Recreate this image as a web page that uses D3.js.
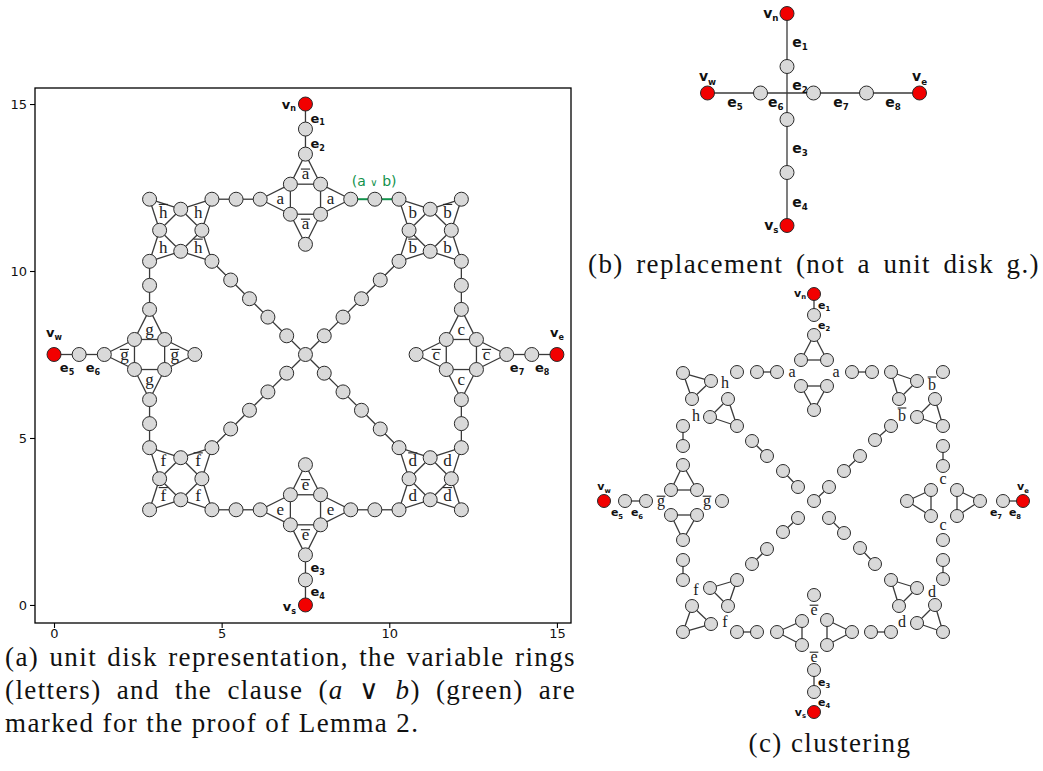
<!DOCTYPE html>
<html>
<head>
<meta charset="utf-8">
<script src="https://cdn.jsdelivr.net/npm/d3@7"></script>
<style>
  body { margin: 0; background: #fff; }
</style>
</head>
<body>
<script>
var SERIF = "'Liberation Serif', 'Times New Roman', serif"
var SANS = "'DejaVu Sans', sans-serif"
var NODE_FILL = '#d9d9d9', NODE_STROKE = '#2a2a2a', EDGE = '#3a3a3a', RED = '#f20000', GREEN = '#12924c'

// ---------- panel (a): unit disk representation ----------
var ticksA = [0, 5, 10, 15]

var nodesA = [
  // terminals and their chains
  ['vn', 7.5, 15], ['n1', 7.5, 14.25], ['vs', 7.5, 0], ['n4', 7.5, 0.75],
  ['vw', 0, 7.5], ['n5', 0.75, 7.5], ['ve', 15, 7.5], ['n8', 14.25, 7.5],
  // side gadgets a, c, e, g
  ['aT', 7.5, 13.5], ['aB', 7.5, 10.8], ['aL', 6.15, 12.15], ['aR', 8.85, 12.15],
  ['a1', 7.05, 12.6], ['a2', 7.95, 12.6], ['a3', 7.05, 11.7], ['a4', 7.95, 11.7],
  ['cT', 12.15, 8.85], ['cB', 12.15, 6.15], ['cL', 10.8, 7.5], ['cR', 13.5, 7.5],
  ['c1', 11.7, 7.95], ['c2', 12.6, 7.95], ['c3', 11.7, 7.05], ['c4', 12.6, 7.05],
  ['eT', 7.5, 4.2], ['eB', 7.5, 1.5], ['eL', 6.15, 2.85], ['eR', 8.85, 2.85],
  ['e1', 7.05, 3.3], ['e2', 7.95, 3.3], ['e3', 7.05, 2.4], ['e4', 7.95, 2.4],
  ['gT', 2.85, 8.85], ['gB', 2.85, 6.15], ['gL', 1.5, 7.5], ['gR', 4.2, 7.5],
  ['g1', 2.4, 7.95], ['g2', 3.3, 7.95], ['g3', 2.4, 7.05], ['g4', 3.3, 7.05],
  // corner gadgets h, b, d, f
  ['hTL', 2.85, 12.15], ['hTR', 4.71, 12.15], ['hBL', 2.85, 10.29], ['hBR', 4.71, 10.29],
  ['hiT', 3.78, 11.85], ['hiL', 3.15, 11.22], ['hiR', 4.41, 11.22], ['hiB', 3.78, 10.59],
  ['bTL', 10.29, 12.15], ['bTR', 12.15, 12.15], ['bBL', 10.29, 10.29], ['bBR', 12.15, 10.29],
  ['biT', 11.22, 11.85], ['biL', 10.59, 11.22], ['biR', 11.85, 11.22], ['biB', 11.22, 10.59],
  ['dTL', 10.29, 4.71], ['dTR', 12.15, 4.71], ['dBL', 10.29, 2.85], ['dBR', 12.15, 2.85],
  ['diT', 11.22, 4.41], ['diL', 10.59, 3.78], ['diR', 11.85, 3.78], ['diB', 11.22, 3.15],
  ['fTL', 2.85, 4.71], ['fTR', 4.71, 4.71], ['fBL', 2.85, 2.85], ['fBR', 4.71, 2.85],
  ['fiT', 3.78, 4.41], ['fiL', 3.15, 3.78], ['fiR', 4.41, 3.78], ['fiB', 3.78, 3.15],
  // ring chain nodes
  ['r1', 5.43, 12.15], ['r2', 9.57, 12.15], ['r3', 12.15, 9.57], ['r4', 12.15, 5.43],
  ['r5', 9.57, 2.85], ['r6', 5.43, 2.85], ['r7', 2.85, 5.43], ['r8', 2.85, 9.57],
  // diagonals and centre
  ['x0', 7.5, 7.5],
  ['ul1', 5.27, 9.73], ['ul2', 5.83, 9.17], ['ul3', 6.38, 8.62], ['ul4', 6.94, 8.06],
  ['ur1', 9.73, 9.73], ['ur2', 9.17, 9.17], ['ur3', 8.62, 8.62], ['ur4', 8.06, 8.06],
  ['dl1', 5.27, 5.27], ['dl2', 5.83, 5.83], ['dl3', 6.38, 6.38], ['dl4', 6.94, 6.94],
  ['dr1', 9.73, 5.27], ['dr2', 9.17, 5.83], ['dr3', 8.62, 6.38], ['dr4', 8.06, 6.94]
]

var sideBars = {a: [1, 1, 0, 0], c: [0, 0, 1, 1], e: [1, 1, 0, 0], g: [0, 0, 1, 1]}   // top, bottom, left, right
var cornerBars = {h: [1, 0, 0, 1], b: [0, 1, 1, 0], d: [1, 0, 0, 1], f: [0, 1, 1, 0]} // tl, tr, bl, br

var chainEdgesA = [
  ['vn', 'n1'], ['n1', 'aT'], ['vs', 'n4'], ['n4', 'eB'], ['vw', 'n5'], ['n5', 'gL'], ['ve', 'n8'], ['n8', 'cR'],
  ['hTR', 'r1'], ['r1', 'aL'], ['bBR', 'r3'], ['r3', 'cT'], ['cB', 'r4'], ['r4', 'dTR'],
  ['dBL', 'r5'], ['r5', 'eR'], ['eL', 'r6'], ['r6', 'fBR'], ['fTL', 'r7'], ['r7', 'gB'], ['gT', 'r8'], ['r8', 'hBL'],
  ['hBR', 'ul1'], ['ul1', 'ul2'], ['ul2', 'ul3'], ['ul3', 'ul4'], ['ul4', 'x0'],
  ['bBL', 'ur1'], ['ur1', 'ur2'], ['ur2', 'ur3'], ['ur3', 'ur4'], ['ur4', 'x0'],
  ['fTR', 'dl1'], ['dl1', 'dl2'], ['dl2', 'dl3'], ['dl3', 'dl4'], ['dl4', 'x0'],
  ['dTL', 'dr1'], ['dr1', 'dr2'], ['dr2', 'dr3'], ['dr3', 'dr4'], ['dr4', 'x0']
]
var clauseEdgesA = [['aR', 'r2'], ['r2', 'bTL']]
var terminalsA = ['vn', 'vs', 'vw', 've']

var edgeLabelsA = [
  ['e', '1', 7.65, 14.58, 'start'], ['e', '2', 7.65, 13.83, 'start'],
  ['e', '3', 7.65, 1.11, 'start'], ['e', '4', 7.65, 0.39, 'start'],
  ['e', '5', 0.39, 7.11, 'middle'], ['e', '6', 1.16, 7.11, 'middle'],
  ['e', '7', 13.81, 7.11, 'middle'], ['e', '8', 14.56, 7.11, 'middle'],
  ['v', 'n', 7.22, 15, 'end'], ['v', 's', 7.22, -0.05, 'end'],
  ['v', 'w', 0, 8.15, 'middle'], ['v', 'e', 15, 8.15, 'middle']
]
var clauseLabelA = [9.55, 12.7]

// ---------- panel (b): replacement ----------
var nodesB = [
  ['vn', 0, 3], ['n1', 0, 1], ['n3', 0, -1], ['n4', 0, -3], ['vs', 0, -5],
  ['vw', -3, 0], ['n5', -1, 0], ['n7', 1, 0], ['n8', 3, 0], ['ve', 5, 0]
]
var edgesB = [['vn', 'n1'], ['n1', 'n3'], ['n3', 'n4'], ['n4', 'vs'], ['vw', 'n5'], ['n5', 'n7'], ['n7', 'n8'], ['n8', 've']]
var edgeLabelsB = [
  ['e', '1', 0.2, 1.92, 'start'], ['e', '2', 0.2, 0.3, 'start'], ['e', '3', 0.2, -2.08, 'start'], ['e', '4', 0.2, -4.11, 'start'],
  ['e', '5', -1.96, -0.34, 'middle'], ['e', '6', -0.42, -0.34, 'middle'], ['e', '7', 2.04, -0.34, 'middle'], ['e', '8', 4.0, -0.34, 'middle'],
  ['v', 'n', -0.32, 3.02, 'end'], ['v', 's', -0.32, -5, 'end'], ['v', 'w', -3, 0.62, 'middle'], ['v', 'e', 5, 0.62, 'middle']
]

// ---------- panel (c): clustering ----------
var clustersC = [
  [[0, 10.35], [0, 9.3]],
  [[0, 8.3], [-0.65, 7.05], [0.65, 7.05]],
  [[-0.65, 5.75], [0.65, 5.75], [0, 4.55]],
  [[-3.85, 6.45]],
  [[-2.85, 6.45], [-1.85, 6.45]],
  [[1.9, 6.45], [2.9, 6.45]],
  [[-6.55, 6.4], [-5.15, 6.0], [-6.1, 5.1]],
  [[-4.3, 5.1], [-5.2, 4.2], [-3.85, 3.75]],
  [[-6.55, 3.75], [-6.55, 2.75]],
  [[-6.55, 1.8], [-7.15, 0.55], [-5.85, 0.55]],
  [[-10.5, 0]],
  [[-9.45, 0], [-8.4, 0]],
  [[-4.6, 0]],
  [[-7.15, -0.7], [-5.85, -0.7], [-6.55, -1.95]],
  [[-6.55, -2.95], [-6.55, -3.95]],
  [[-5.2, -4.35], [-3.85, -3.95], [-4.3, -5.25]],
  [[-6.1, -5.25], [-5.15, -6.15], [-6.55, -6.55]],
  [[-3.85, -6.55], [-2.85, -6.55]],
  [[-1.85, -6.55], [-0.6, -6.0], [-0.6, -7.2]],
  [[0.65, -5.95], [0.65, -7.2], [1.9, -6.55]],
  [[0, -4.7]],
  [[0, -8.45], [0, -9.55]],
  [[0, -10.55]],
  [[2.85, -6.55], [3.85, -6.55]],
  [[5.15, -6.1], [6.05, -5.2], [6.45, -6.55]],
  [[3.85, -3.95], [5.15, -4.35], [4.25, -5.25]],
  [[6.45, -2.95], [6.45, -3.9]],
  [[6.45, -1.95]],
  [[4.65, 0], [5.85, 0.55], [5.85, -0.75]],
  [[7.15, 0.55], [7.15, -0.75], [8.3, 0]],
  [[9.45, 0], [10.45, 0]],
  [[6.45, 2.75], [6.45, 1.75]],
  [[6.05, 5.1], [5.15, 4.2], [6.45, 3.75]],
  [[3.85, 6.45], [5.15, 6.0], [4.25, 5.1]],
  [[6.45, 6.45]],
  [[-3.1, 3.0], [-2.35, 2.25]], [[-1.55, 1.5], [-0.8, 0.7]],
  [[0, 0], [0.75, 0.7]], [[1.5, 1.5], [2.3, 2.25]], [[3.05, 3.05], [3.85, 3.75]],
  [[-0.8, -0.85], [-1.55, -1.55]], [[-2.35, -2.4], [-3.1, -3.15]],
  [[0.75, -0.85], [1.5, -1.6]], [[2.3, -2.35], [3.05, -3.15]]
]
var terminalsC = [[0, 10.35], [-10.5, 0], [0, -10.55], [10.45, 0]]
var letterLabelsC = [
  ['a', 0, -1.1, 6.45], ['a', 0, 1.1, 6.45], ['h', 0, -4.45, 5.9], ['h', 0, -5.9, 4.25],
  ['g', 1, -7.65, 0], ['g', 1, -5.35, 0], ['f', 0, -5.9, -4.45], ['f', 0, -4.45, -6.05],
  ['e', 1, 0, -5.45], ['e', 1, 0, -7.8], ['d', 0, 4.4, -6.05], ['d', 0, 5.9, -4.55],
  ['c', 0, 6.45, -1.2], ['c', 0, 6.45, 1.1], ['b', 1, 4.4, 4.25], ['b', 1, 5.9, 5.8]
]
var edgeLabelsC = [
  ['e', '1', 0.2, 9.8, 'start'], ['e', '2', 0.2, 8.8, 'start'], ['e', '3', 0.2, -9.05, 'start'], ['e', '4', 0.2, -10.05, 'start'],
  ['e', '5', -9.85, -0.58, 'middle'], ['e', '6', -8.85, -0.58, 'middle'], ['e', '7', 9.1, -0.58, 'middle'], ['e', '8', 10.05, -0.58, 'middle'],
  ['v', 'n', -0.4, 10.4, 'end'], ['v', 's', -0.4, -10.55, 'end'], ['v', 'w', -10.5, 0.72, 'middle'], ['v', 'e', 10.45, 0.72, 'middle']
]

// ---------- captions ----------
var captionA = [
  [['(a) unit disk representation, the variable rings', 0]],
  [['(letters) and the clause (', 0], ['a', 1], [' \u2228 ', 0], ['b', 1], [') (green) are', 0]],
  [['marked for the proof of Lemma 2.', 0]]
]
var captionB = '(b) replacement (not a unit disk g.)'
var captionC = '(c) clustering'

// ====================================================================
var svg = d3.select('body').append('svg').attr('width', 1043).attr('height', 771)
  .style('display', 'block')

function subLabel(g, x, y, base, sub, anchor, size){
  var t = g.append('text').attr('x', x).attr('y', y).attr('dy', '0.35em')
    .attr('text-anchor', anchor)
    .style('font-family', SANS).style('font-weight', 'bold').style('font-size', size + 'px')
    .style('fill', '#111')
  t.append('tspan').text(base)
  t.append('tspan').text(sub).style('font-size', (size * 0.62) + 'px').attr('dy', size * 0.22)
}

function barLetter(g, x, y, ch, bar, size){
  var base = y + size * 0.3
  g.append('text').attr('x', x).attr('y', base).attr('text-anchor', 'middle')
    .style('font-family', SERIF).style('font-size', size + 'px').style('fill', '#222')
    .text(ch)
  if (bar) {
    var asc = 'bdfh'.indexOf(ch) >= 0
    var by = base - (asc ? size * 0.8 : size * 0.6)
    g.append('line').attr('x1', x - size * 0.27).attr('x2', x + size * 0.27)
      .attr('y1', by).attr('y2', by).style('stroke', '#222').style('stroke-width', 1.1)
  }
}

function drawNodes(g, pts, x, y, r, isRed){
  g.append('g').selectAll('circle').data(pts).join('circle')
    .attr('cx', function(d){ return x(d[0]) })
    .attr('cy', function(d){ return y(d[1]) })
    .attr('r', r)
    .style('fill', function(d){ return isRed(d) ? RED : NODE_FILL })
    .style('stroke', NODE_STROKE).style('stroke-width', 1)
}

// justify a text line to a width by widening its word gaps
function justify(t, width){
  var node = t.node()
  var spaces = (node.textContent.match(/ /g) || []).length
  var extra = width - node.getComputedTextLength()
  if (spaces) t.style('word-spacing', (extra / spaces) + 'px')
}

// ---------- panel (a) ----------
!(function(){
  var x = d3.scaleLinear().domain([-0.567, 15.42]).range([35, 571])
  var y = d3.scaleLinear().domain([-0.54, 15.48]).range([623, 88])
  var g = svg.append('g')

  var pos = {}
  nodesA.forEach(function(d){ pos[d[0]] = [d[1], d[2]] })

  var edges = chainEdgesA.slice()
  Object.keys(sideBars).forEach(function(k){
    edges.push([k+'1', k+'2'], [k+'2', k+'4'], [k+'4', k+'3'], [k+'3', k+'1'],
      [k+'T', k+'1'], [k+'T', k+'2'], [k+'B', k+'3'], [k+'B', k+'4'],
      [k+'L', k+'1'], [k+'L', k+'3'], [k+'R', k+'2'], [k+'R', k+'4'])
  })
  Object.keys(cornerBars).forEach(function(k){
    edges.push([k+'iT', k+'iL'], [k+'iT', k+'iR'], [k+'iB', k+'iL'], [k+'iB', k+'iR'],
      [k+'TL', k+'iT'], [k+'TL', k+'iL'], [k+'TR', k+'iT'], [k+'TR', k+'iR'],
      [k+'BL', k+'iL'], [k+'BL', k+'iB'], [k+'BR', k+'iR'], [k+'BR', k+'iB'])
  })

  // axes
  var xAxis = d3.axisBottom(x).tickValues(ticksA).tickSize(5).tickPadding(1)
  var yAxis = d3.axisLeft(y).tickValues(ticksA).tickSize(5).tickPadding(3)
  g.append('g').attr('transform', 'translate(0,623)').call(xAxis)
  g.append('g').attr('transform', 'translate(35,0)').call(yAxis)
  g.selectAll('.domain').remove()
  g.selectAll('.tick line').style('stroke', '#000').style('stroke-width', 1.1)
  g.selectAll('.tick text').style('font-family', SANS).style('font-size', '13px').style('fill', '#111')
  g.append('rect').attr('x', 35).attr('y', 88).attr('width', 536).attr('height', 535)
    .style('fill', 'none').style('stroke', '#000').style('stroke-width', 1.3)

  g.append('g').selectAll('line').data(edges).join('line')
    .attr('x1', function(d){ return x(pos[d[0]][0]) }).attr('y1', function(d){ return y(pos[d[0]][1]) })
    .attr('x2', function(d){ return x(pos[d[1]][0]) }).attr('y2', function(d){ return y(pos[d[1]][1]) })
    .style('stroke', EDGE).style('stroke-width', 1.3)

  g.append('g').selectAll('line').data(clauseEdgesA).join('line')
    .attr('x1', function(d){ return x(pos[d[0]][0]) }).attr('y1', function(d){ return y(pos[d[0]][1]) })
    .attr('x2', function(d){ return x(pos[d[1]][0]) }).attr('y2', function(d){ return y(pos[d[1]][1]) })
    .style('stroke', GREEN).style('stroke-width', 2)

  // triangle letters
  var lab = g.append('g')
  function tri(a, b, c, ch, bar){
    var cx = (pos[a][0] + pos[b][0] + pos[c][0]) / 3
    var cy = (pos[a][1] + pos[b][1] + pos[c][1]) / 3
    barLetter(lab, x(cx), y(cy), ch, bar, 17)
  }
  Object.keys(sideBars).forEach(function(k){
    var b = sideBars[k]
    tri(k+'T', k+'1', k+'2', k, b[0]); tri(k+'B', k+'3', k+'4', k, b[1])
    tri(k+'L', k+'1', k+'3', k, b[2]); tri(k+'R', k+'2', k+'4', k, b[3])
  })
  Object.keys(cornerBars).forEach(function(k){
    var b = cornerBars[k]
    tri(k+'TL', k+'iT', k+'iL', k, b[0]); tri(k+'TR', k+'iT', k+'iR', k, b[1])
    tri(k+'BL', k+'iL', k+'iB', k, b[2]); tri(k+'BR', k+'iR', k+'iB', k, b[3])
  })

  drawNodes(g, nodesA.map(function(d){ return [d[1], d[2], d[0]] }), x, y, 7,
    function(d){ return terminalsA.indexOf(d[2]) >= 0 })

  edgeLabelsA.forEach(function(d){ subLabel(g, x(d[2]), y(d[3]), d[0], d[1], d[4], 13) })

  var cl = g.append('text').attr('x', x(clauseLabelA[0])).attr('y', y(clauseLabelA[1])).attr('dy', '0.35em')
    .attr('text-anchor', 'middle').style('font-family', SANS).style('font-size', '14px').style('fill', GREEN)
  cl.append('tspan').text('(a ')
  cl.append('tspan').text('\u2228').style('font-size', '10px')
  cl.append('tspan').text(' b)')
})()

// ---------- panel (b) ----------
!(function(){
  var x = d3.scaleLinear().domain([-3, 5]).range([707.5, 919.5])
  var y = d3.scaleLinear().domain([-5, 3]).range([225.5, 13.5])
  var g = svg.append('g')
  var pos = {}
  nodesB.forEach(function(d){ pos[d[0]] = [d[1], d[2]] })

  g.append('g').selectAll('line').data(edgesB).join('line')
    .attr('x1', function(d){ return x(pos[d[0]][0]) }).attr('y1', function(d){ return y(pos[d[0]][1]) })
    .attr('x2', function(d){ return x(pos[d[1]][0]) }).attr('y2', function(d){ return y(pos[d[1]][1]) })
    .style('stroke', EDGE).style('stroke-width', 1.3)

  drawNodes(g, nodesB.map(function(d){ return [d[1], d[2], d[0]] }), x, y, 7,
    function(d){ return d[2].charAt(0) == 'v' })

  edgeLabelsB.forEach(function(d){ subLabel(g, x(d[2]), y(d[3]), d[0], d[1], d[4], 14) })
})()

// ---------- panel (c) ----------
!(function(){
  var x = d3.scaleLinear().domain([-10.5, 10.45]).range([604, 1023])
  var y = d3.scaleLinear().domain([-10.55, 10.35]).range([712, 294])
  var g = svg.append('g')

  var links = []
  clustersC.forEach(function(c){
    for (var i = 0; i < c.length; i++)
      for (var j = i + 1; j < c.length; j++) links.push([c[i], c[j]])
  })
  g.append('g').selectAll('line').data(links).join('line')
    .attr('x1', function(d){ return x(d[0][0]) }).attr('y1', function(d){ return y(d[0][1]) })
    .attr('x2', function(d){ return x(d[1][0]) }).attr('y2', function(d){ return y(d[1][1]) })
    .style('stroke', EDGE).style('stroke-width', 1.3)

  var pts = [].concat.apply([], clustersC)
  drawNodes(g, pts, x, y, 6.5, function(d){
    return terminalsC.some(function(t){ return t[0] == d[0] && t[1] == d[1] })
  })

  letterLabelsC.forEach(function(d){ barLetter(g, x(d[2]), y(d[3]), d[0], d[1], 16) })
  edgeLabelsC.forEach(function(d){ subLabel(g, x(d[2]), y(d[3]), d[0], d[1], d[4], 11) })
})()

// ---------- captions ----------
var LS = 1.4   // letter spacing that widens the narrow serif towards the original's width
var capA = svg.append('g')
captionA.forEach(function(line, i){
  var t = capA.append('text').attr('x', 5).attr('y', 666 + i * 33)
    .style('font-family', SERIF).style('font-size', '27px').style('fill', '#111')
    .style('letter-spacing', LS + 'px')
  line.forEach(function(p){
    t.append('tspan').text(p[0]).style('font-style', p[1] ? 'italic' : 'normal')
  })
  if (i < captionA.length - 1) justify(t, 571)
})
var tb = svg.append('text').attr('x', 588).attr('y', 273)
  .style('font-family', SERIF).style('font-size', '27px').style('fill', '#111')
  .style('letter-spacing', LS + 'px').text(captionB)
justify(tb, 452)
svg.append('text').attr('x', 830).attr('y', 752).attr('text-anchor', 'middle')
  .style('font-family', SERIF).style('font-size', '27px').style('fill', '#111')
  .style('letter-spacing', LS + 'px').text(captionC)
</script>
</body>
</html>
